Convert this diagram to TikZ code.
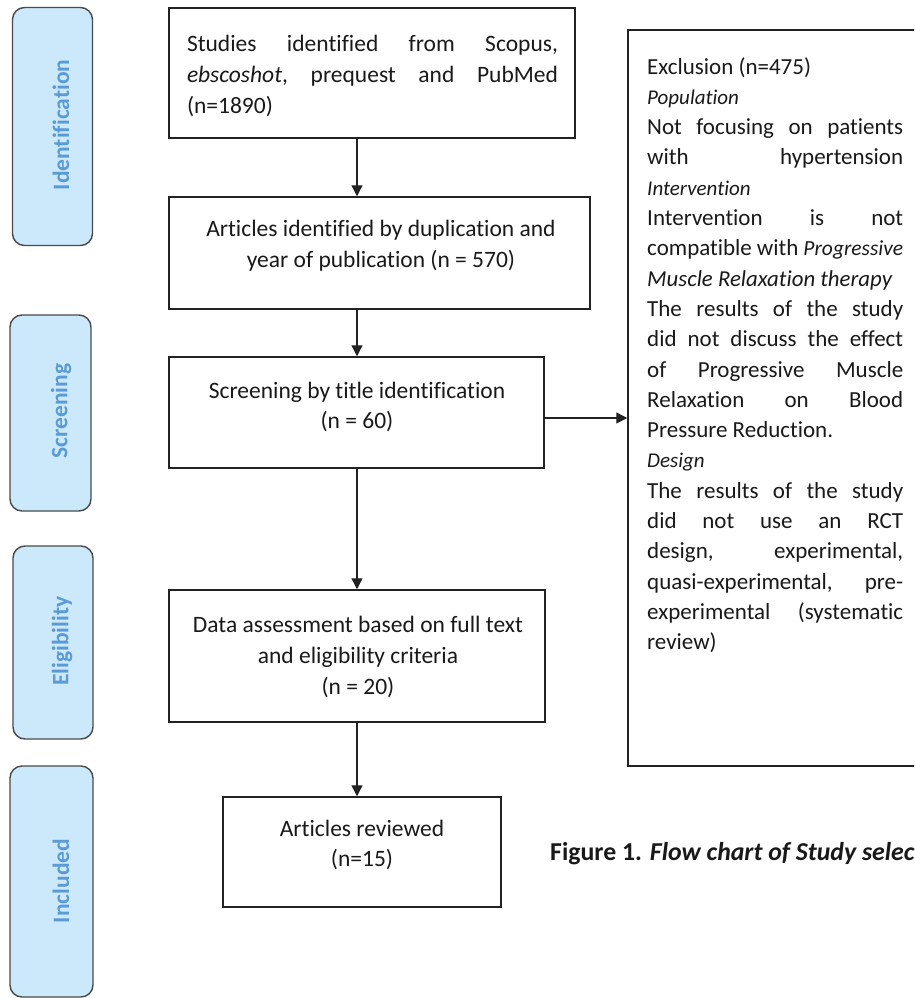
\documentclass[tikz,border=0pt]{standalone}
\usepackage{fontspec}
\setmainfont{Carlito}[Ligatures=NoCommon]
\usetikzlibrary{arrows.meta}

\definecolor{phasefill}{HTML}{CCE9FC}
\definecolor{phasetext}{HTML}{5B9BD5}
\definecolor{phaseedge}{HTML}{4A4A4A}
\definecolor{lineink}{HTML}{222222}

% a line of text stretched to a given width, words separated by \hfill
\newcommand\spreadline[2]{\hbox to #1{#2}}
\newcommand\exl[1]{\spreadline{256pt}{#1}}
\newcommand\exhead{\fontsize{21}{30.3}\selectfont\itshape}
\newcommand\exit[1]{{\fontsize{21.5}{30.3}\selectfont\itshape #1}}

\begin{document}
\begin{tikzpicture}[x=1pt,y=-1pt,
  phase/.style={draw=phaseedge, fill=phasefill, line width=1.4pt, rounded corners=12pt, inner sep=0pt},
  phaselabel/.style={rotate=90, text=phasetext, inner sep=0pt, font=\fontsize{23.5}{26}\selectfont\bfseries},
  flowbox/.style={draw=lineink, line width=1.5pt, inner sep=0pt},
  boxtext/.style={align=center, inner sep=0pt, text=black!90, font=\fontsize{23.5}{30.8}\selectfont},
  extext/.style={align=left, inner sep=0pt, text=black!90, font=\fontsize{23}{30.3}\selectfont},
  arrow/.style={draw=lineink, line width=1.4pt, -{Triangle[width=11pt,length=11pt]}}
]
\useasboundingbox (0,0) rectangle (914,998);
\clip (0,0) rectangle (914,998);

% stage boxes on the left
\node[phase, minimum width=80pt, minimum height=238pt] (pid) at (52.5,126.5) {};
\node[phase, minimum width=81pt, minimum height=196pt] (psc) at (50.5,413) {};
\node[phase, minimum width=80pt, minimum height=193pt] (pel) at (53,642.5) {};
\node[phase, minimum width=83pt, minimum height=231pt] (pin) at (51.5,881.5) {};
\node[phaselabel] (lid) at (61,125) {Identification};
\node[phaselabel] (lsc) at (61,411) {Screening};
\node[phaselabel] (lel) at (62,641) {Eligibility};
\node[phaselabel] (lin) at (61,881) {Included};

% flow boxes
\node[flowbox, minimum width=406pt, minimum height=130pt] (b1) at (372,73) {};
\node[flowbox, minimum width=421pt, minimum height=112pt] (b2) at (379.5,253) {};
\node[flowbox, minimum width=375pt, minimum height=111pt] (b3) at (356.5,412.5) {};
\node[flowbox, minimum width=376pt, minimum height=132pt] (b4) at (357,656) {};
\node[flowbox, minimum width=278pt, minimum height=110pt] (b5) at (362,852) {};
\node[flowbox, minimum width=320pt, minimum height=736pt] (ex) at (788,398) {};

% box texts
\node[boxtext, align=left] (t1) at (372.5,76) {%
  \spreadline{371pt}{Studies\hfill identified\hfill from\hfill Scopus,}\\
  \spreadline{371pt}{\textit{ebscoshot},\hfill prequest\hfill and\hfill PubMed}\\
  (n=1890)};
\node[boxtext] (t2) at (381,246) {Articles identified by duplication and\\ year of publication (n = 570)};
\node[boxtext] (t3) at (357,407) {Screening by title identification\\ (n = 60)};
\node[boxtext] (t4) at (358,657) {Data assessment based on full text\\ and eligibility criteria\\ (n = 20)};
\node[boxtext] (t5) at (362,845) {Articles reviewed\\ (n=15)};

\node[extext, anchor=north west] (ext) at (647,57) {%
  Exclusion (n=475)\\
  {\exhead Population}\\
  \exl{Not\hfill focusing\hfill on\hfill patients}\\
  \exl{with\hfill hypertension}\\
  {\exhead Intervention}\\
  \exl{Intervention\hfill is\hfill not}\\
  \exl{compatible\hfill with\hfill \exit{Progressive}}\\
  {\fontsize{22.8}{30.3}\selectfont\itshape Muscle Relaxation therapy}\\
  \exl{The\hfill results\hfill of\hfill the\hfill study}\\
  \exl{did\hfill not\hfill discuss\hfill the\hfill effect}\\
  \exl{of\hfill Progressive\hfill Muscle}\\
  \exl{Relaxation\hfill on\hfill Blood}\\
  Pressure Reduction.\\
  {\exhead Design}\\
  \exl{The\hfill results\hfill of\hfill the\hfill study}\\
  \exl{did\hfill not\hfill use\hfill an\hfill RCT}\\
  \exl{design,\hfill experimental,}\\
  \exl{quasi-experimental,\hfill pre-}\\
  \exl{experimental\hfill (systematic}\\
  review)};

% caption
\node[anchor=base west, inner sep=0pt, text=black!90, font=\fontsize{25.8}{30}\selectfont\bfseries] (cap) at (550,860) {Figure 1. \textit{Flow chart of Study selec}};

% connectors
\coordinate (ax) at (357,0);
\coordinate (ay) at (0,418);
\draw[arrow] (b1.south -| ax) -- (b2.north -| ax);
\draw[arrow] (b2.south -| ax) -- (b3.north -| ax);
\draw[arrow] (b3.south -| ax) -- (b4.north -| ax);
\draw[arrow] (b4.south -| ax) -- (b5.north -| ax);
\draw[arrow] (b3.east |- ay) -- (ex.west |- ay);
\end{tikzpicture}
\end{document}
